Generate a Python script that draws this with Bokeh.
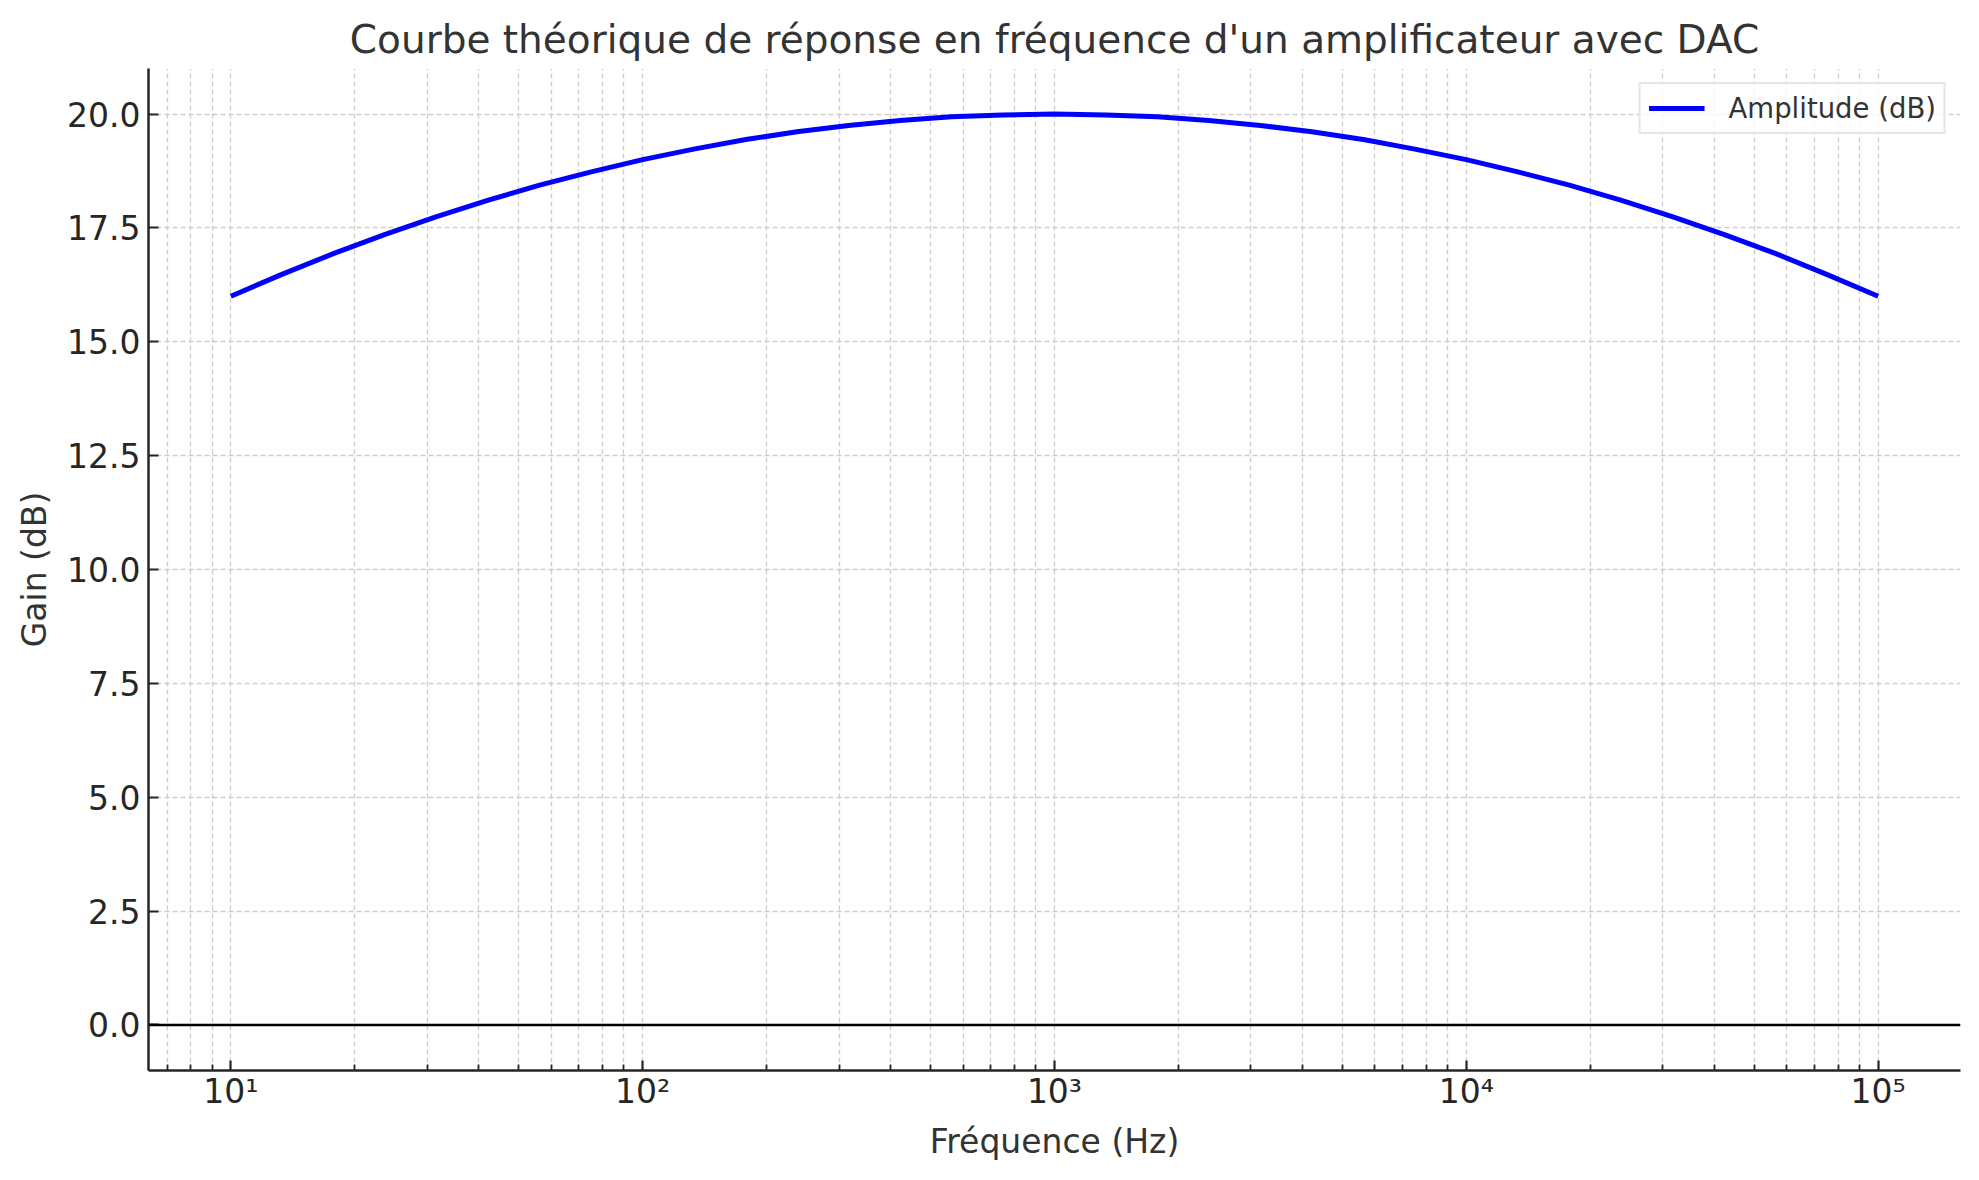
from bokeh.plotting import figure
from bokeh.models import Range1d, FixedTicker, PrintfTickFormatter, Span, Legend, LegendItem
from bokeh.embed import file_html
from bokeh.resources import INLINE

# ---- data ----
freq_hz = [10, 13.3, 17.8, 23.7, 31.6, 42.2, 56.2, 75.0, 100, 133, 178, 237, 316, 422, 562, 750,
           1000, 1334, 1778, 2371, 3162, 4217, 5623, 7499, 10000, 13335, 17783, 23714, 31623,
           42170, 56234, 74989, 100000]
gain_db = [16.00, 16.48, 16.94, 17.36, 17.75, 18.11, 18.44, 18.73, 19.00, 19.23, 19.44, 19.61,
           19.75, 19.86, 19.94, 19.98, 20.00, 19.98, 19.94, 19.86, 19.75, 19.61, 19.44, 19.23,
           19.00, 18.73, 18.44, 18.11, 17.75, 17.36, 16.94, 16.48, 16.00]
x_major = [10, 100, 1000, 10000, 100000]
x_major_labels = ["10\u00b9", "10\u00b2", "10\u00b3", "10\u2074", "10\u2075"]
x_minor = [7, 8, 9] + [m * d for d in [10, 100, 1000, 10000, 100000] for m in range(2, 10)]
y_ticks = [0.0, 2.5, 5.0, 7.5, 10.0, 12.5, 15.0, 17.5, 20.0]
title_text = "Courbe théorique de réponse en fréquence d'un amplificateur avec DAC"
x_label = "Fréquence (Hz)"
y_label = "Gain (dB)"
series_label = "Amplitude (dB)"

FONT = "DejaVu Sans"
TXT = "#333333"
TICK = "#262626"

p = figure(width=1971, height=1172, x_axis_type="log",
           x_range=Range1d(10 ** 0.8, 10 ** 5.2), y_range=Range1d(-1, 21),
           output_backend="svg", toolbar_location=None,
           min_border_left=148, min_border_right=11, min_border_top=68, min_border_bottom=102)
p.outline_line_color = None
p.background_fill_color = "white"
p.border_fill_color = "white"

p.title.text = title_text
p.title.align = "center"
p.title.text_font = FONT
p.title.text_font_size = "39px"
p.title.text_font_style = "normal"
p.title.text_color = TXT
p.title.standoff = 14

# axes
xa = p.xaxis[0]
xa.ticker = FixedTicker(ticks=x_major, minor_ticks=x_minor)
xa.major_label_overrides = {v: s for v, s in zip(x_major, x_major_labels)}
ya = p.yaxis[0]
ya.ticker = FixedTicker(ticks=y_ticks)
ya.formatter = PrintfTickFormatter(format="%.1f")

for ax in (xa, ya):
    ax.axis_line_color = TICK
    ax.axis_line_width = 2.5
    ax.major_tick_line_color = TICK
    ax.major_tick_line_width = 2.2
    ax.major_tick_in = 10
    ax.major_tick_out = 0
    ax.minor_tick_line_color = TICK
    ax.minor_tick_line_width = 1.8
    ax.minor_tick_in = 6
    ax.minor_tick_out = 0
    ax.major_label_text_font = FONT
    ax.major_label_text_font_size = "33px"
    ax.major_label_text_color = TICK
    ax.axis_label_text_font = FONT
    ax.axis_label_text_font_size = "33px"
    ax.axis_label_text_font_style = "normal"
    ax.axis_label_text_color = TXT
ya.minor_tick_line_color = None
xa.axis_label = x_label
ya.axis_label = y_label
xa.major_label_standoff = 1
ya.major_label_standoff = 8
xa.axis_label_standoff = 8
ya.axis_label_standoff = 10

# grid
for g in (p.xgrid[0], p.ygrid[0]):
    g.grid_line_color = "#cccccc"
    g.grid_line_width = 1.3
    g.grid_line_dash = "5 3"
p.xgrid[0].minor_grid_line_color = "#cccccc"
p.xgrid[0].minor_grid_line_width = 1.3
p.xgrid[0].minor_grid_line_dash = "5 3"

# zero line
p.add_layout(Span(location=0, dimension="width", line_color="black", line_width=2.5))

r = p.line(freq_hz, gain_db, line_color="#0000ff", line_width=5)

legend = Legend(items=[LegendItem(label=series_label, renderers=[r])], location="top_right")
legend.label_text_font = FONT
legend.label_text_font_size = "27.5px"
legend.label_text_color = TXT
legend.border_line_color = "#cccccc"
legend.border_line_width = 2
legend.background_fill_color = "white"
legend.background_fill_alpha = 0.8
legend.padding = 8
legend.margin = 14
legend.glyph_width = 56
legend.glyph_height = 20
legend.label_standoff = 24
legend.label_height = 20
p.add_layout(legend)

open("out.html", "w").write(file_html(p, INLINE))
